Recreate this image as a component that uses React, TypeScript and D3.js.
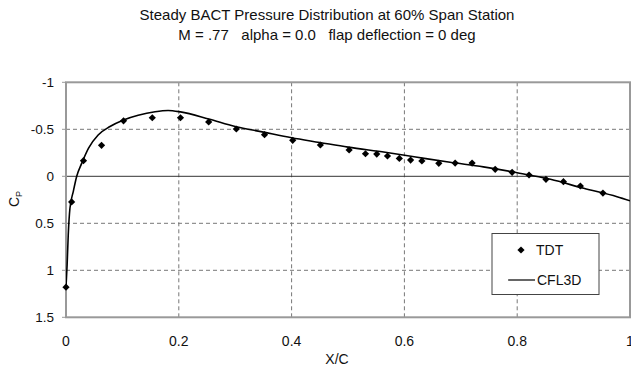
import React from "react";
import * as d3 from "d3";

const titleLines = [
  "Steady BACT Pressure Distribution at 60% Span Station",
  "M = .77   alpha = 0.0   flap deflection = 0 deg",
];
const xTicks = [0, 0.2, 0.4, 0.6, 0.8, 1];
const yTicks = [-1, -0.5, 0, 0.5, 1, 1.5];
const xGrid = [0.2, 0.4, 0.6, 0.8];
const yGrid = [-0.5, 0.5, 1];

const tdtX = [0, 0.01, 0.031, 0.063, 0.102, 0.153, 0.203, 0.253, 0.302, 0.352, 0.402, 0.451, 0.502, 0.531, 0.551, 0.57, 0.591, 0.611, 0.631, 0.661, 0.69, 0.72, 0.761, 0.791, 0.821, 0.851, 0.882, 0.912, 0.952];
const tdtCp = [1.18, 0.273, -0.166, -0.33, -0.59, -0.623, -0.623, -0.578, -0.503, -0.443, -0.383, -0.333, -0.28, -0.24, -0.237, -0.216, -0.19, -0.173, -0.163, -0.138, -0.141, -0.141, -0.074, -0.042, -0.014, 0.032, 0.057, 0.103, 0.178];

const cflX = [0, 0.002, 0.004, 0.007, 0.013, 0.019, 0.028, 0.04, 0.057, 0.078, 0.102, 0.128, 0.158, 0.181, 0.203, 0.253, 0.3, 0.35, 0.4, 0.45, 0.5, 0.566, 0.62, 0.681, 0.74, 0.8, 0.859, 0.918, 0.977, 1.0];
const cflCp = [1.18, 0.94, 0.62, 0.34, 0.16, 0, -0.14, -0.3, -0.44, -0.53, -0.6, -0.65, -0.687, -0.7, -0.685, -0.61, -0.53, -0.47, -0.41, -0.36, -0.31, -0.255, -0.205, -0.149, -0.1, -0.038, 0.032, 0.128, 0.217, 0.26];

const FONT = "'Liberation Sans', Arial, Helvetica, sans-serif";

export default function App() {
  const W = 631, H = 368;
  const x = d3.scaleLinear().domain([0, 1]).range([66, 630]);
  const y = d3.scaleLinear().domain([-1, 1.5]).range([82.3, 317.3]);

  const tdt = tdtX.map((v, i) => [v, tdtCp[i]] as [number, number]);
  const cfl = cflX.map((v, i) => [v, cflCp[i]] as [number, number]);

  const line = d3.line<[number, number]>()
    .x(d => x(d[0]))
    .y(d => y(d[1]))
    .curve(d3.curveMonotoneX);

  const diamond = d3.symbol().type(d3.symbolSquare).size(26)() as string;

  const [x0, x1] = x.range();
  const [y0, y1] = y.range();

  return (
    <svg width={W} height={H} style={{ position: "absolute", left: 0, top: 0, background: "#fff" }} fontFamily={FONT}>
      <rect x={0} y={0} width={W} height={H} fill="#fff" />
      {titleLines.map((t, i) => (
        <text key={i} x={327} y={19.5 + i * 20.5} textAnchor="middle" fontSize={15} fill="#111" style={{ whiteSpace: "pre" }}>{t}</text>
      ))}
      <defs>
        <clipPath id="plotclip">
          <rect x={x0} y={y0} width={x1 - x0} height={y1 - y0} />
        </clipPath>
      </defs>
      {xGrid.map(v => (
        <line key={"gx" + v} x1={x(v)} x2={x(v)} y1={y0} y2={y1} stroke="#777" strokeWidth={1} strokeDasharray="4,3" />
      ))}
      {yGrid.map(v => (
        <line key={"gy" + v} x1={x0} x2={x1} y1={y(v)} y2={y(v)} stroke="#777" strokeWidth={1} strokeDasharray="4,3" />
      ))}
      <line x1={x0} x2={x1} y1={y(0)} y2={y(0)} stroke="#333" strokeWidth={1} />
      <rect x={x0} y={y0} width={x1 - x0} height={y1 - y0} fill="none" stroke="#999" strokeWidth={2} />
      {yTicks.map(v => (
        <g key={"yt" + v}>
          <line x1={x0 - 4} x2={x0} y1={y(v)} y2={y(v)} stroke="#999" strokeWidth={1} />
          <text x={54} y={y(v)} dy="0.35em" textAnchor="end" fontSize={13.5} fill="#111">{v}</text>
        </g>
      ))}
      {xTicks.map(v => (
        <text key={"xt" + v} x={x(v)} y={341.5} dy="0.35em" textAnchor="middle" fontSize={14} fill="#111">{v}</text>
      ))}
      <text x={337} y={359} dy="0.35em" textAnchor="middle" fontSize={14} fill="#111">X/C</text>
      <text transform="translate(19,199) rotate(-90)" textAnchor="middle" fontSize={14} fill="#111">
        C<tspan fontSize={9} dy={3}>P</tspan>
      </text>
      <g clipPath="url(#plotclip)">
        <path d={line(cfl) as string} fill="none" stroke="#000" strokeWidth={1.6} />
      </g>
      {tdt.map((d, i) => (
        <path key={"p" + i} d={diamond} transform={`translate(${x(d[0])},${y(d[1])}) rotate(45)`} fill="#000" />
      ))}
      <g>
        <rect x={492} y={233.5} width={107} height={61} fill="#fff" stroke="#444" strokeWidth={1} />
        <path d={diamond} transform="translate(521,250) rotate(45)" fill="#000" />
        <text x={536} y={250} dy="0.35em" fontSize={14} fill="#111">TDT</text>
        <line x1={508} x2={535} y1={280} y2={280} stroke="#000" strokeWidth={1.2} />
        <text x={537} y={280} dy="0.35em" fontSize={14} fill="#111">CFL3D</text>
      </g>
    </svg>
  );
}
